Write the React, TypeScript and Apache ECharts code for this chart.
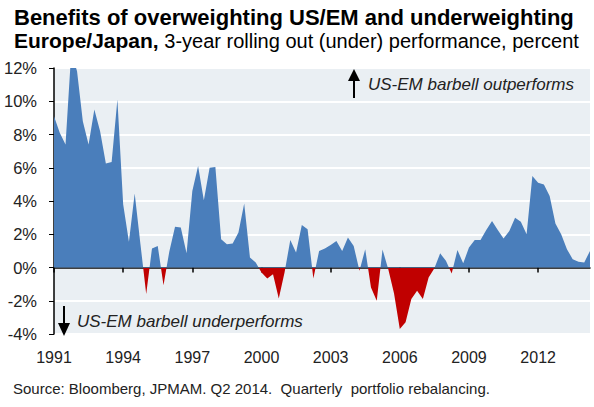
import React, { useEffect, useRef } from "react";
import * as echarts from "echarts";

// Quarterly, 1991 Q1 .. 2014 Q2
const startYear = 1991;
const values: number[] = [
  9.1, 8.1, 7.4, 13.0, 11.8, 8.8, 7.4, 9.5, 8.2, 6.26, 6.35, 10.1,
  3.8, 1.55, 4.45, 1.4, -1.6, 1.15, 1.3, -1.07, 0.95, 2.45, 2.4, 0.85,
  4.6, 6.1, 4.05, 6.0, 6.05, 1.7, 1.4, 1.45, 2.1, 3.85, 0.6, 0.3,
  -0.3, -0.66, -0.4, -1.87, -0.3, 1.65, 0.9, 2.55, 2.3, -0.66, 1.0, 1.15,
  1.35, 1.6, 1.0, 1.8, 1.3, -0.2, 1.1, -1.2, -2.0, 1.08, -0.1, -1.57,
  -3.7, -3.3, -1.9, -1.4, -1.9, -0.6, -0.05, 0.85, 0.4, -0.36, 1.05, 0.25,
  1.2, 1.65, 1.65, 2.25, 2.8, 2.25, 1.75, 2.2, 3.0, 2.75, 2.0, 5.5,
  5.1, 5.0, 4.3, 2.65, 2.0, 1.1, 0.5, 0.35, 0.3, 1.0,
];
const categories: string[] = values.map((_, i) => `${startYear + Math.floor(i / 4)}Q${(i % 4) + 1}`);
const yTicks = { min: -4, max: 12, interval: 2 };

const titleBold1 = "Benefits of overweighting US/EM and underweighting";
const titleBold2 = "Europe/Japan,";
const titleNormal2 = " 3-year rolling out (under) performance, percent";
const sourceText = "Source: Bloomberg, JPMAM. Q2 2014.  Quarterly  portfolio rebalancing.";
const upText = "US-EM barbell outperforms";
const downText = "US-EM barbell underperforms";

const BLUE = "#4A7EBB";
const RED = "#C00000";
const FONT = "'Liberation Sans', Arial, sans-serif";

const labelEvery = (idx: number) => idx % 12 === 0;

export default function App() {
  const ref = useRef<HTMLDivElement>(null);
  useEffect(() => {
    if (!ref.current) return;
    const chart = echarts.init(ref.current, null, { renderer: "svg" });
    chart.setOption({
      animation: false,
      textStyle: { fontFamily: FONT },
      title: {
        left: 9,
        top: 1,
        text: `{a|${titleBold1}}\n{b|${titleBold2}}{n|${titleNormal2}}`,
        textStyle: {
          rich: {
            a: { fontFamily: FONT, fontWeight: "bold", fontSize: 22, color: "#000", lineHeight: 23 },
            b: { fontFamily: FONT, fontWeight: "bold", fontSize: 21, color: "#000", lineHeight: 23 },
            n: { fontFamily: FONT, fontWeight: "normal", fontSize: 20, color: "#000", lineHeight: 23 },
          },
        },
      },
      grid: {
        left: 54,
        right: 4,
        top: 68,
        bottom: 73,
        show: true,
        backgroundColor: "#EAEFF3",
        borderWidth: 0,
      },
      visualMap: {
        show: false,
        type: "piecewise",
        dimension: 1,
        seriesIndex: 0,
        pieces: [
          { gt: -20, lte: 0, color: RED },
          { gt: 0, lte: 30, color: BLUE },
        ],
      },
      xAxis: [
        {
          type: "category",
          data: categories,
          boundaryGap: false,
          axisLine: { onZero: true, lineStyle: { color: "#000", width: 1.5 } },
          axisTick: { show: true, interval: labelEvery, length: 5, lineStyle: { color: "#000", width: 1.5 } },
          axisLabel: { show: false },
          splitLine: { show: false },
        },
        {
          type: "category",
          data: categories,
          boundaryGap: false,
          position: "bottom",
          axisLine: { show: false, onZero: false },
          axisTick: { show: false },
          axisLabel: {
            interval: labelEvery,
            formatter: (v: string) => v.slice(0, 4),
            fontSize: 16,
            color: "#222",
            margin: 15,
          },
          splitLine: { show: false },
        },
      ],
      yAxis: {
        type: "value",
        min: yTicks.min,
        max: yTicks.max,
        interval: yTicks.interval,
        axisLine: { show: true, lineStyle: { color: "#000", width: 1.5 } },
        axisTick: { show: true, length: 5, lineStyle: { color: "#000" } },
        axisLabel: { formatter: "{value}%", fontSize: 16.5, color: "#222", margin: 17 },
        splitLine: { show: true, lineStyle: { color: "#FFFFFF", width: 2 } },
      },
      series: [
        {
          type: "line",
          data: values,
          xAxisIndex: 0,
          symbol: "none",
          lineStyle: { width: 0 },
          areaStyle: { opacity: 1 },
          clip: true,
          z: 1,
        },
      ],
      graphic: [
        { type: "line", shape: { x1: 354, y1: 98, x2: 354, y2: 78 }, style: { stroke: "#000", lineWidth: 2 }, z: 10 },
        { type: "polygon", shape: { points: [[348, 81], [360, 81], [354, 69]] }, style: { fill: "#000" }, z: 10 },
        {
          type: "text",
          left: 368,
          top: 76,
          style: { text: upText, font: `italic 17px ${FONT}`, fill: "#222" },
          z: 10,
        },
        { type: "line", shape: { x1: 64, y1: 306, x2: 64, y2: 325 }, style: { stroke: "#000", lineWidth: 2 }, z: 10 },
        { type: "polygon", shape: { points: [[58, 323], [70, 323], [64, 336]] }, style: { fill: "#000" }, z: 10 },
        {
          type: "text",
          left: 77,
          top: 313,
          style: { text: downText, font: `italic 17px ${FONT}`, fill: "#222" },
          z: 10,
        },
        {
          type: "text",
          left: 13,
          top: 381,
          style: { text: sourceText, font: `15px ${FONT}`, fill: "#222" },
        },
      ],
    });
    return () => chart.dispose();
  }, []);
  return <div ref={ref} style={{ width: 594, height: 407, position: "absolute", left: 0, top: 0 }} />;
}
